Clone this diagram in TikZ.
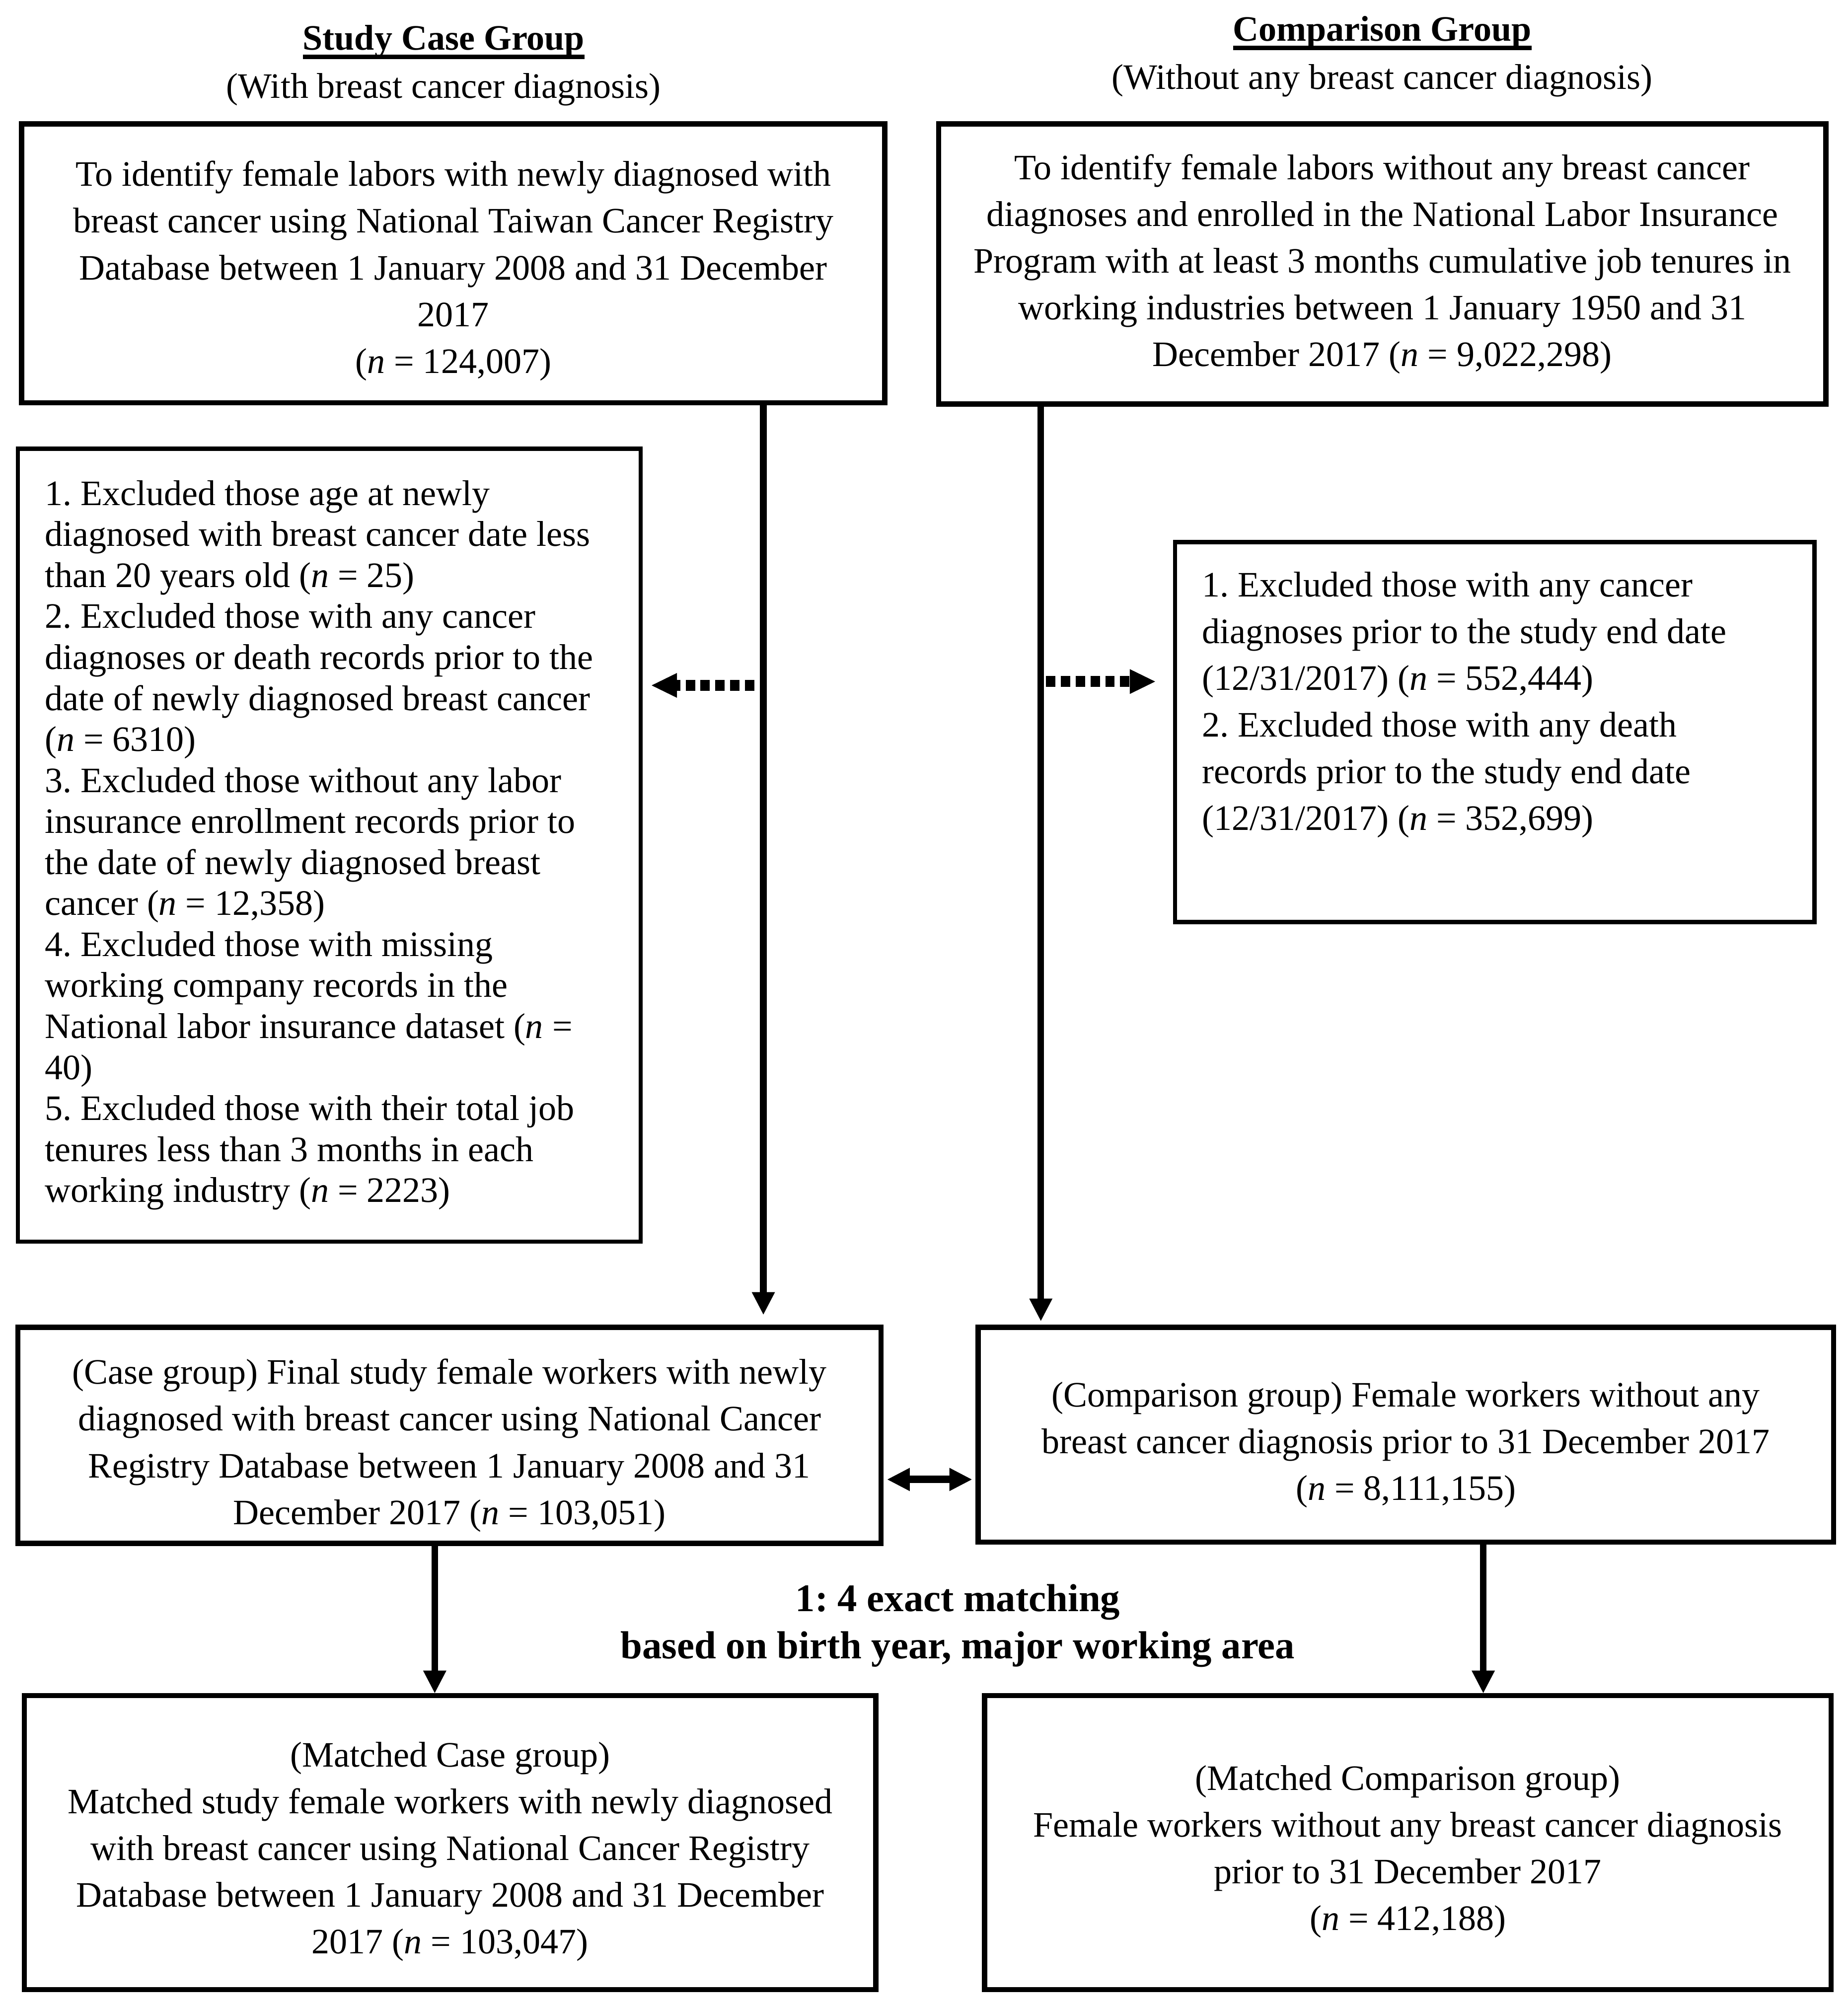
\documentclass[tikz,border=0pt]{standalone}
\usepackage{fontspec}
\setmainfont{Liberation Serif}
\usetikzlibrary{arrows.meta}
\frenchspacing
\newcommand\normsz{\fontsize{20.5}{26.8}\selectfont\frenchspacing}
\newcommand\tightsz{\fontsize{20.5}{23.5}\selectfont\frenchspacing}
\newcommand\bigsz{\fontsize{22.4}{27}\selectfont}
\newsavebox\ulsave
\newcommand\ulbox[1]{\sbox\ulsave{#1}\rlap{\vrule height -2.8pt depth 5.4pt width \wd\ulsave}\usebox\ulsave}
\newcommand\topstrut[1]{\rule{0pt}{#1}}
\def\U{0.02575cm}
\tikzset{
  mainbox/.style={draw, line width=3pt, inner sep=0pt, align=center, font=\normsz},
  thinbox/.style={draw, line width=2.4pt, inner ysep=0pt, inner xsep=21*\U, align=flush left},
  arr/.style={line width=3.8pt, -{Triangle[length=0.45cm,width=0.47cm,line width=0pt]}},
  dotarr/.style={line width=6.3pt, dash pattern=on 5.4pt off 3.1pt, -{Triangle[length=0.51cm,width=0.5cm,line width=0pt]}},
  dblarr/.style={line width=4.3pt, {Triangle[length=0.45cm,width=0.47cm,line width=0pt]}-{Triangle[length=0.45cm,width=0.47cm,line width=0pt]}},
  ttl/.style={font=\normsz\bfseries, inner sep=0pt},
  sub/.style={font=\normsz, inner sep=0pt}
}
\begin{document}
\begin{tikzpicture}[x=0.02575cm, y=-0.02575cm]
\fill[white] (0,0) rectangle (1445,1568);
\useasboundingbox (0,0) rectangle (1445,1568);

% titles
\node[ttl] (t1) at (347,33) {\ulbox{Study Case Group}};
\node[sub] (s1) at (347,70) {(With breast cancer diagnosis)};
\node[ttl] (t2) at (1081,26) {\ulbox{Comparison Group}};
\node[sub] (s2) at (1081,63) {(Without any breast cancer diagnosis)};

% top boxes
\node[mainbox, minimum width=675*\U, minimum height=218*\U] (A) at (354.5,206)
 {\topstrut{23pt}To identify female labors with newly diagnosed with\\
  breast cancer using National Taiwan Cancer Registry\\
  Database between 1 January 2008 and 31 December\\
  2017\\
  (\textit{n} = 124,007)};
\node[mainbox, minimum width=694*\U, minimum height=219*\U] (B) at (1081,206.5)
 {To identify female labors without any breast cancer\\
  diagnoses and enrolled in the National Labor Insurance\\
  Program with at least 3 months cumulative job tenures in\\
  working industries between 1 January 1950 and 31\\
  December 2017 (\textit{n} = 9,022,298)};

% exclusion boxes
\node[thinbox, font=\tightsz, text width=445*\U, minimum width=487*\U, minimum height=620*\U] (C) at (257.5,661)
 {1. Excluded those age at newly\\
  diagnosed with breast cancer date less\\
  than 20 years old (\textit{n} = 25)\\
  2. Excluded those with any cancer\\
  diagnoses or death records prior to the\\
  date of newly diagnosed breast cancer\\
  (\textit{n} = 6310)\\
  3. Excluded those without any labor\\
  insurance enrollment records prior to\\
  the date of newly diagnosed breast\\
  cancer (\textit{n} = 12,358)\\
  4. Excluded those with missing\\
  working company records in the\\
  National labor insurance dataset (\textit{n} =\\
  40)\\
  5. Excluded those with their total job\\
  tenures less than 3 months in each\\
  working industry (\textit{n} = 2223)};
\node[thinbox, font=\normsz, text width=458*\U, minimum width=500*\U, minimum height=297*\U] (D) at (1169,572.5)
 {1. Excluded those with any cancer\\
  diagnoses prior to the study end date\\
  (12/31/2017) (\textit{n} = 552,444)\\
  2. Excluded those with any death\\
  records prior to the study end date\\
  (12/31/2017) (\textit{n} = 352,699)\\[8.8pt]
  \mbox{}};

% group boxes
\node[mainbox, minimum width=675*\U, minimum height=169*\U] (E) at (351.5,1122.5)
 {\topstrut{26pt}(Case group) Final study female workers with newly\\
  diagnosed with breast cancer using National Cancer\\
  Registry Database between 1 January 2008 and 31\\
  December 2017 (\textit{n} = 103,051)};
\node[mainbox, minimum width=669*\U, minimum height=168*\U] (F) at (1099.5,1122)
 {\topstrut{26pt}(Comparison group) Female workers without any\\
  breast cancer diagnosis prior to 31 December 2017\\
  (\textit{n} = 8,111,155)};

% matched boxes
\node[mainbox, minimum width=666*\U, minimum height=230*\U] (G) at (352,1441)
 {\topstrut{24.5pt}(Matched Case group)\\
  Matched study female workers with newly diagnosed\\
  with breast cancer using National Cancer Registry\\
  Database between 1 January 2008 and 31 December\\
  2017 (\textit{n} = 103,047)};
\node[mainbox, minimum width=662*\U, minimum height=230*\U] (H) at (1101,1441)
 {\topstrut{24.5pt}(Matched Comparison group)\\
  Female workers without any breast cancer diagnosis\\
  prior to 31 December 2017\\
  (\textit{n} = 412,188)};

% matching label
\node[font=\bigsz\bfseries, align=center, inner sep=0pt] (M) at (749,1271.5)
 {1: 4 exact matching\\ based on birth year, major working area};

% connectors
\coordinate (aL) at (597,0);
\coordinate (aR) at (814,0);
\coordinate (dL) at (590,536);
\coordinate (dR) at (818,533);
\coordinate (mE) at (0,1157);
\coordinate (bL) at (340,0);
\coordinate (bR) at (1160,0);

\draw[arr, shorten >=0.206cm] (A.south -| aL) -- (E.north -| aL);
\draw[arr, shorten >=0.077cm] (B.south -| aR) -- (F.north -| aR);
\draw[dotarr, shorten >=0.18cm] (dL) -- (C.east |- dL);
\draw[dotarr, shorten >=0.36cm] (dR) -- (D.west |- dR);
\draw[dblarr, shorten <=0.077cm, shorten >=0.077cm] (E.east |- mE) -- (F.west |- mE);
\draw[arr] (E.south -| bL) -- (G.north -| bL);
\draw[arr] (F.south -| bR) -- (H.north -| bR);
\end{tikzpicture}
\end{document}
